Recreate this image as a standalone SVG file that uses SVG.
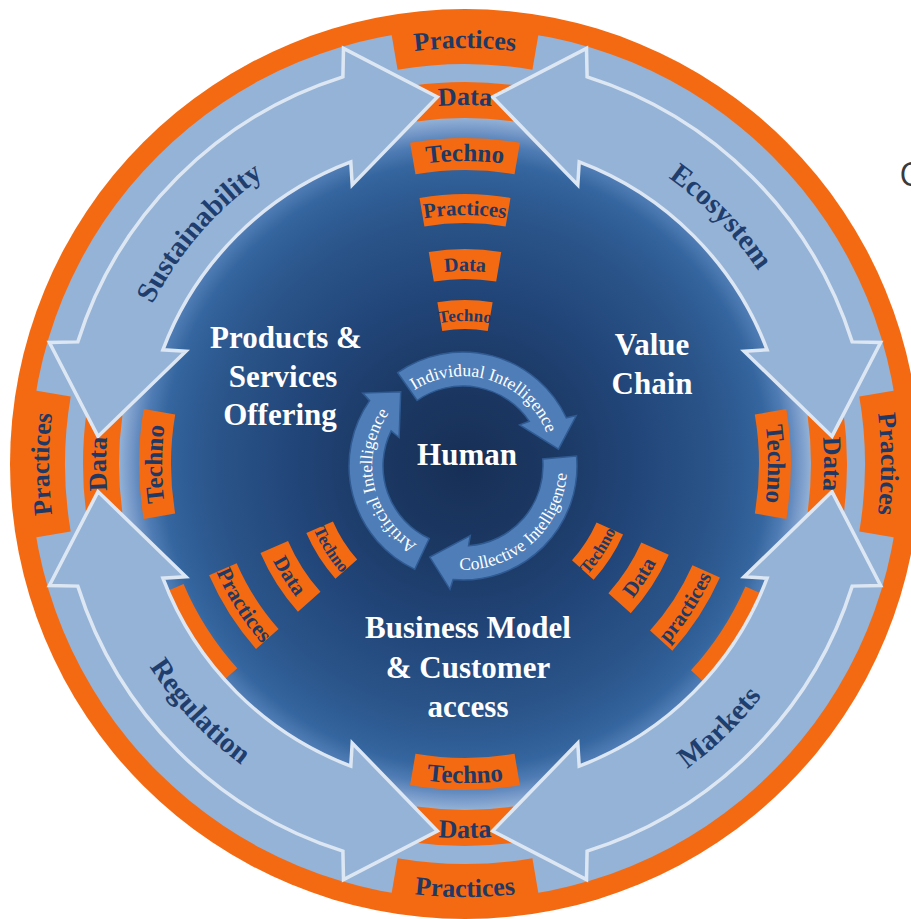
<svg xmlns="http://www.w3.org/2000/svg" width="911" height="919" viewBox="0 0 911 919">
  <defs>
    <radialGradient id="coreFill" cx="465" cy="464" r="352" gradientUnits="userSpaceOnUse">
      <stop offset="0" stop-color="#172f56"/>
      <stop offset="0.25" stop-color="#1b3863"/>
      <stop offset="0.5" stop-color="#22467a"/>
      <stop offset="0.7" stop-color="#2a5489"/>
      <stop offset="0.8" stop-color="#2f5d95"/>
      <stop offset="0.86" stop-color="#36669f"/>
      <stop offset="0.91" stop-color="#4e7bb3"/>
      <stop offset="0.95" stop-color="#7598c8"/>
      <stop offset="0.985" stop-color="#95b3d7"/>
      <stop offset="1" stop-color="#95b3d7"/>
    </radialGradient>

    <!-- tag shapes, local coordinates, pointing up from the hub -->
    <path id="tabShape" d="M -74.98 -438.6 A 445 445 0 0 1 74.98 -438.6 L 67.40 -394.3 A 400 400 0 0 0 -67.40 -394.3 Z"/>
    <path id="dataShape" d="M -53.16 -378.3 A 382 382 0 0 1 53.16 -378.3 L 48.15 -342.6 A 346 346 0 0 0 -48.15 -342.6 Z"/>
    <path id="techShape" d="M -54.93 -321.3 A 326 326 0 0 1 54.93 -321.3 L 49.54 -289.8 A 294 294 0 0 0 -49.54 -289.8 Z"/>
    <path id="sPrac" d="M -45.49 -266.1 A 270 270 0 0 1 45.49 -266.1 L 40.61 -237.6 A 241 241 0 0 0 -40.61 -237.6 Z"/>
    <path id="sData" d="M -36.23 -211.9 A 215 215 0 0 1 36.23 -211.9 L 31.17 -182.4 A 185 185 0 0 0 -31.17 -182.4 Z"/>
    <path id="sTech" d="M -27.63 -161.7 A 164 164 0 0 1 27.63 -161.7 L 22.75 -133.1 A 135 135 0 0 0 -22.75 -133.1 Z"/>
    <path id="lTech" d="M -27.06 -170.9 A 173 173 0 0 1 27.06 -170.9 L 22.53 -142.2 A 144 144 0 0 0 -22.53 -142.2 Z"/>
    <path id="lData" d="M -34.88 -220.3 A 223 223 0 0 1 34.88 -220.3 L 30.19 -190.6 A 193 193 0 0 0 -30.19 -190.6 Z"/>
    <path id="lPrac" d="M -43.64 -275.6 A 279 279 0 0 1 43.64 -275.6 L 38.95 -245.9 A 249 249 0 0 0 -38.95 -245.9 Z"/>
    <path id="lBig" d="M -55.21 -333.5 A 338 338 0 0 1 55.21 -333.5 L 49.98 -301.9 A 306 306 0 0 0 -49.98 -301.9 Z"/>

    <!-- baselines: outward-facing (tops away from hub) -->
    <path id="o416" d="M -208 -360.3 A 416 416 0 0 1 208 -360.3"/>
    <path id="o359" d="M -179.5 -310.9 A 359 359 0 0 1 179.5 -310.9"/>
    <path id="o303" d="M -151.5 -262.4 A 303 303 0 0 1 151.5 -262.4"/>
    <path id="o249" d="M -124.5 -215.6 A 249 249 0 0 1 124.5 -215.6"/>
    <path id="o193" d="M -96.5 -167.1 A 193 193 0 0 1 96.5 -167.1"/>
    <path id="o143" d="M -71.5 -123.8 A 143 143 0 0 1 71.5 -123.8"/>
    <!-- baselines: inward-facing (tops toward hub) -->
    <path id="i433" d="M -216.5 375.0 A 433 433 0 0 0 216.5 375.0"/>
    <path id="i374" d="M -187 323.9 A 374 374 0 0 0 187 323.9"/>
    <path id="i319" d="M -159.5 276.3 A 319 319 0 0 0 159.5 276.3"/>
    <path id="i271" d="M -135.5 234.7 A 271 271 0 0 0 135.5 234.7"/>
    <path id="i215" d="M -107.5 186.2 A 215 215 0 0 0 107.5 186.2"/>
    <path id="i165" d="M -82.5 142.9 A 165 165 0 0 0 82.5 142.9"/>

    <!-- curved double-headed arrow spanning one quadrant -->
    <path id="ringArrow" d="M -27.6 -367.0 L -121.5 -415.6 L -122.1 -387.2 A 406 406 0 0 0 -387.2 -122.1 L -415.6 -121.5 L -367.0 -27.6 L -279.1 -112.8 L -302.1 -114.2 A 323 323 0 0 1 -114.2 -302.1 L -112.8 -279.1 Z"/>
    <!-- one third of the inner cycle -->
    <path id="cycArrow" d="M -65.4 -93.4 A 114 114 0 0 1 103.3 -48.2 L 113.3 -50.4 L 95.5 -16.8 L 56.6 -41.1 L 66.3 -44.7 A 80 80 0 0 0 -45.9 -65.5 Z"/>

    <!-- ring label baselines -->
    <path id="arcSust" d="M 115.9 427.3 A 351 351 0 0 1 380.1 123.4"/>
    <path id="arcEco" d="M 561.8 126.6 A 351 351 0 0 1 805.6 379.1"/>
    <path id="arcReg" d="M 99.6 548.4 A 375 375 0 0 0 355.4 822.6"/>
    <path id="arcMkt" d="M 556.2 829.8 A 377 377 0 0 0 827.4 567.9"/>

    <!-- inner cycle label baselines -->
    <path id="arcInd" d="M 402.8 399.1 A 90 90 0 0 1 551.0 447.3"/>
    <path id="arcCol" d="M 430.9 564.9 A 104 104 0 0 0 564.7 444.4"/>
    <path id="arcArt" d="M 434.9 552.5 A 91 91 0 0 1 402.1 398.4"/>
  </defs>

  <style>
    .orange { fill: #f46a12; }
    .tag { font-family: "Liberation Serif", "Times New Roman", serif; font-weight: bold; fill: #1f3864; text-anchor: middle; }
    .big { font-family: "Liberation Serif", "Times New Roman", serif; font-weight: bold; fill: #ffffff; text-anchor: middle; font-size: 31px; }
    .ringlbl { font-family: "Liberation Serif", "Times New Roman", serif; font-weight: bold; fill: #1f3e6d; text-anchor: middle; font-size: 29px; }
    .arrow { fill: #95b3d7; stroke: #dde7f3; stroke-width: 3.5; stroke-linejoin: miter; stroke-miterlimit: 10; }
    .cyc { fill: #4e7db8; stroke: #2f5a92; stroke-width: 1.5; }
    .cyct { font-family: "Liberation Serif", "Times New Roman", serif; fill: #ffffff; font-size: 17.5px; text-anchor: middle; }
  </style>

  <!-- backdrop: orange rim, light band, dark core -->
  <g id="backdrop">
    <circle cx="465" cy="464" r="455" fill="#f46a12"/>
    <circle cx="465" cy="464" r="435" fill="#95b3d7"/>
    <circle cx="465" cy="464" r="352" fill="url(#coreFill)"/>
  </g>

  <!-- tags that sit beneath the ring arrows -->
  <g id="under-arrows" transform="translate(465 464)">
    <g id="data-top"><use href="#dataShape" class="orange"/></g>
    <g id="data-left" transform="rotate(-90)"><use href="#dataShape" class="orange"/></g>
    <g id="data-right" transform="rotate(90)"><use href="#dataShape" class="orange"/></g>
    <g id="data-bottom" transform="rotate(180)"><use href="#dataShape" class="orange"/></g>
    <g id="techno-lowerleft-outer" transform="rotate(237.5)"><use href="#lBig" class="orange"/></g>
    <g id="techno-lowerright-outer" transform="rotate(123)"><use href="#lBig" class="orange"/></g>
  </g>

  <!-- ring arrows -->
  <g id="connectors" transform="translate(465 464)">
    <use id="arrow-sustainability" href="#ringArrow" class="arrow"/>
    <use id="arrow-ecosystem" href="#ringArrow" class="arrow" transform="rotate(90)"/>
    <use id="arrow-markets" href="#ringArrow" class="arrow" transform="rotate(180)"/>
    <use id="arrow-regulation" href="#ringArrow" class="arrow" transform="rotate(270)"/>
  </g>

  <g transform="translate(465 464)">
    <!-- top spoke -->
    <g id="spoke-top">
      <g id="practices-top"><use href="#tabShape" class="orange"/><text class="tag" font-size="26"><textPath href="#o416" startOffset="50%">Practices</textPath></text></g>
      <g id="data-top-label"><text class="tag" font-size="26"><textPath href="#o359" startOffset="50%">Data</textPath></text></g>
      <g id="techno-top"><use href="#techShape" class="orange"/><text class="tag" font-size="25"><textPath href="#o303" startOffset="50%">Techno</textPath></text></g>
      <g id="practices-top-inner"><use href="#sPrac" class="orange"/><text class="tag" font-size="21"><textPath href="#o249" startOffset="50%">Practices</textPath></text></g>
      <g id="data-top-inner"><use href="#sData" class="orange"/><text class="tag" font-size="20"><textPath href="#o193" startOffset="50%">Data</textPath></text></g>
      <g id="techno-top-inner"><use href="#sTech" class="orange"/><text class="tag" font-size="17"><textPath href="#o143" startOffset="50%">Techno</textPath></text></g>
    </g>

    <!-- left spoke -->
    <g id="spoke-left" transform="rotate(-90)">
      <g id="practices-left"><use href="#tabShape" class="orange"/><text class="tag" font-size="26"><textPath href="#o416" startOffset="50%">Practices</textPath></text></g>
      <g id="data-left-label"><text class="tag" font-size="26"><textPath href="#o359" startOffset="50%">Data</textPath></text></g>
      <g id="techno-left"><use href="#techShape" class="orange"/><text class="tag" font-size="25"><textPath href="#o303" startOffset="50%">Techno</textPath></text></g>
    </g>

    <!-- right spoke -->
    <g id="spoke-right" transform="rotate(90)">
      <g id="practices-right"><use href="#tabShape" class="orange"/><text class="tag" font-size="26"><textPath href="#o416" startOffset="50%">Practices</textPath></text></g>
      <g id="data-right-label"><text class="tag" font-size="26"><textPath href="#o359" startOffset="50%">Data</textPath></text></g>
      <g id="techno-right"><use href="#techShape" class="orange"/><text class="tag" font-size="25"><textPath href="#o303" startOffset="50%">Techno</textPath></text></g>
    </g>

    <!-- bottom spoke -->
    <g id="spoke-bottom">
      <g id="practices-bottom"><use href="#tabShape" class="orange" transform="rotate(180)"/><text class="tag" font-size="26"><textPath href="#i433" startOffset="50%">Practices</textPath></text></g>
      <g id="data-bottom-label"><text class="tag" font-size="26"><textPath href="#i374" startOffset="50%">Data</textPath></text></g>
      <g id="techno-bottom"><use href="#techShape" class="orange" transform="rotate(180)"/><text class="tag" font-size="25"><textPath href="#i319" startOffset="50%">Techno</textPath></text></g>
    </g>

    <!-- lower-left spoke -->
    <g id="spoke-lowerleft" transform="rotate(57.5)">
      <g id="techno-lowerleft"><use href="#lTech" class="orange" transform="rotate(180)"/><text class="tag" font-size="17"><textPath href="#i165" startOffset="50%">Techno</textPath></text></g>
      <g id="data-lowerleft"><use href="#lData" class="orange" transform="rotate(180)"/><text class="tag" font-size="21"><textPath href="#i215" startOffset="50%">Data</textPath></text></g>
      <g id="practices-lowerleft"><use href="#lPrac" class="orange" transform="rotate(180)"/><text class="tag" font-size="22"><textPath href="#i271" startOffset="50%">Practices</textPath></text></g>
    </g>

    <!-- lower-right spoke -->
    <g id="spoke-lowerright" transform="rotate(-57)">
      <g id="techno-lowerright"><use href="#lTech" class="orange" transform="rotate(180)"/><text class="tag" font-size="17"><textPath href="#i165" startOffset="50%">Techno</textPath></text></g>
      <g id="data-lowerright"><use href="#lData" class="orange" transform="rotate(180)"/><text class="tag" font-size="21"><textPath href="#i215" startOffset="50%">Data</textPath></text></g>
      <g id="practices-lowerright"><use href="#lPrac" class="orange" transform="rotate(180)"/><text class="tag" font-size="21"><textPath href="#i271" startOffset="50%">practices</textPath></text></g>
    </g>
  </g>

  <!-- ring arrow labels -->
  <g id="label-sustainability"><text class="ringlbl"><textPath href="#arcSust" startOffset="50%">Sustainability</textPath></text></g>
  <g id="label-ecosystem"><text class="ringlbl"><textPath href="#arcEco" startOffset="50%">Ecosystem</textPath></text></g>
  <g id="label-regulation"><text class="ringlbl"><textPath href="#arcReg" startOffset="50%">Regulation</textPath></text></g>
  <g id="label-markets"><text class="ringlbl"><textPath href="#arcMkt" startOffset="50%">Markets</textPath></text></g>

  <!-- inner cycle -->
  <g id="cycle">
    <g transform="translate(463 466)">
      <use id="cyc-individual" href="#cycArrow" class="cyc"/>
      <use id="cyc-collective" href="#cycArrow" class="cyc" transform="rotate(120)"/>
      <use id="cyc-artificial" href="#cycArrow" class="cyc" transform="rotate(240)"/>
    </g>
    <text class="cyct"><textPath href="#arcInd" startOffset="50%">Individual Intelligence</textPath></text>
    <text class="cyct"><textPath href="#arcCol" startOffset="50%">Collective Intelligence</textPath></text>
    <text class="cyct"><textPath href="#arcArt" startOffset="50%">Artificial Intelligence</textPath></text>
  </g>

  <!-- sector titles -->
  <g id="node-human"><text class="big" x="467" y="465">Human</text></g>
  <g id="node-products">
    <text class="big" x="286" y="348">Products &amp;</text>
    <text class="big" x="283" y="387">Services</text>
    <text class="big" x="280" y="425">Offering</text>
  </g>
  <g id="node-valuechain">
    <text class="big" x="652" y="355">Value</text>
    <text class="big" x="652" y="394">Chain</text>
  </g>
  <g id="node-business">
    <text class="big" x="468" y="638" font-size="32">Business Model</text>
    <text class="big" x="468" y="678" font-size="32">&amp; Customer</text>
    <text class="big" x="468" y="717" font-size="32">access</text>
  </g>

  <!-- caption fragment at the right edge -->
  <text x="899.5" y="185.5" font-family="'Open Sans', 'DejaVu Sans', sans-serif" font-size="32" fill="#3a3a3a">C</text>
</svg>
